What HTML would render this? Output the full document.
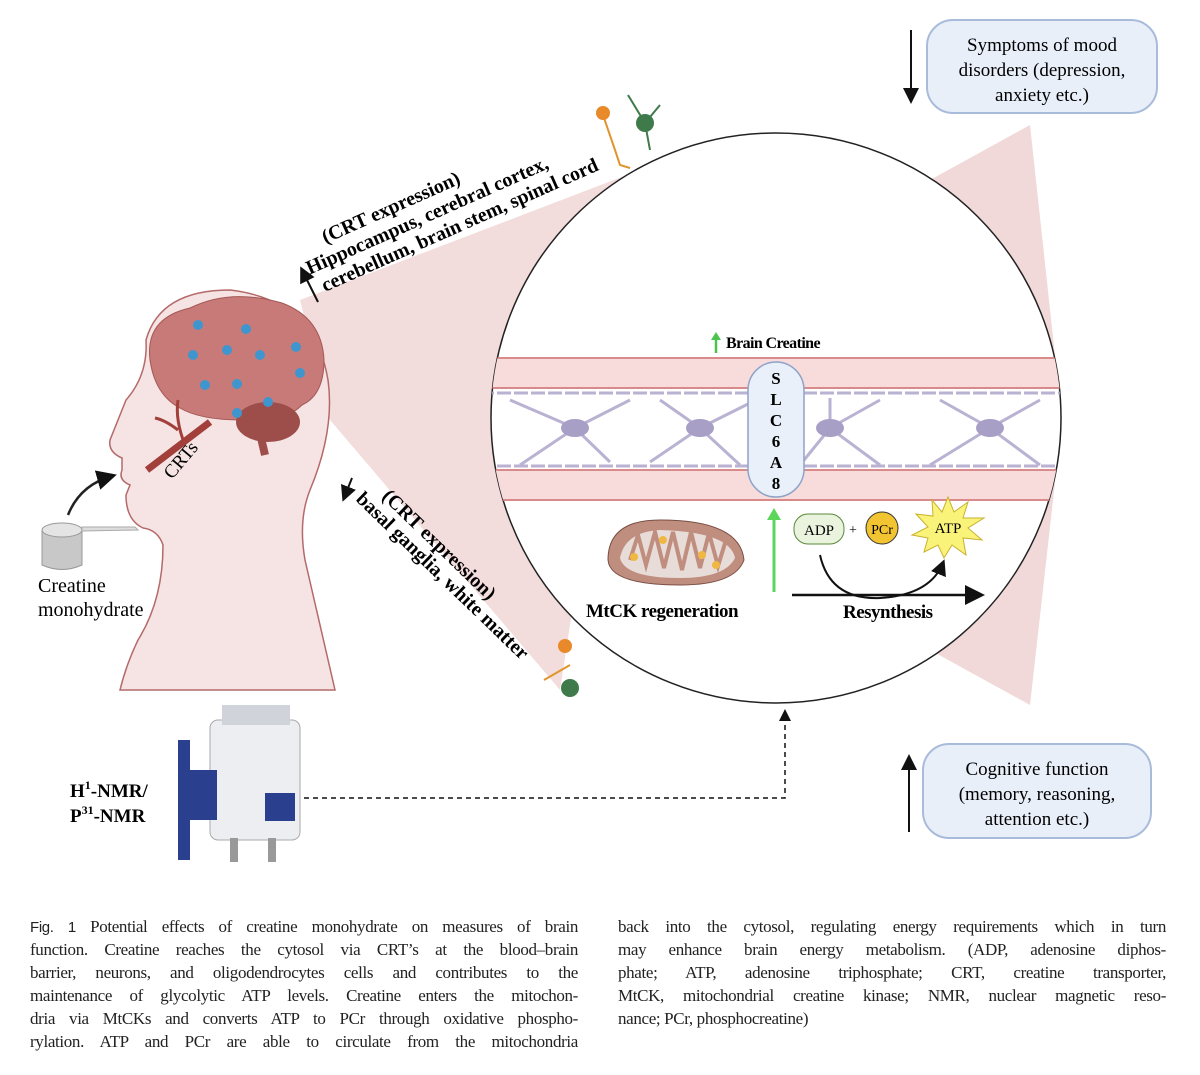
<!DOCTYPE html>
<html><head><meta charset="utf-8"><style>
body{margin:0;background:#fff;width:1200px;height:1075px;overflow:hidden;position:relative;font-family:"Liberation Serif",serif}
.cap{position:absolute;font-size:17px;line-height:23px;color:#222;width:548px}
.cap div{white-space:nowrap;text-align:justify;text-align-last:justify;letter-spacing:-0.35px;height:23px}
.cap div.l{text-align-last:left}
</style></head><body>
<svg width="1200" height="900" style="position:absolute;left:0;top:0" font-family="Liberation Serif, serif">
<defs>
<clipPath id="cc"><circle cx="776" cy="418" r="285"/></clipPath>
<marker id="ah" markerWidth="8" markerHeight="8" refX="6" refY="4" orient="auto"><path d="M0,0L8,4L0,8z" fill="#111"/></marker>
</defs>
<!-- cones -->
<polygon points="300,300 640,170 560,690 330,420" fill="#f3dcdc"/>
<polygon points="1030,125 1062,420 930,180" fill="#f1d9d9"/>
<polygon points="1030,705 1062,420 930,650" fill="#f1d9d9"/>
<!-- head -->
<path d="M335,690 L305,560 Q298,520 310,490 Q335,430 328,380 Q315,300 230,290 Q160,290 146,340 Q148,375 126,400 Q118,420 110,440 Q108,452 122,458 L122,470 Q118,480 130,485 L126,495 Q126,520 143,528 Q158,530 163,545 Q163,600 138,640 Q126,665 120,690 Z" fill="#f6e3e3" stroke="#b46a6a" stroke-width="1.5"/>
<!-- brain -->
<path d="M150,360 Q145,318 190,308 Q230,288 282,303 Q322,318 324,360 Q324,395 302,405 Q282,425 242,420 Q200,420 180,408 Q155,395 150,360Z" fill="#c77a78" stroke="#a45855"/>
<ellipse cx="268" cy="422" rx="32" ry="20" fill="#9d4e4a"/>
<path d="M258,425 L265,455" stroke="#9d4e4a" stroke-width="8"/>
<g fill="#3f96cf">
<circle cx="198" cy="325" r="5"/><circle cx="246" cy="329" r="5"/><circle cx="296" cy="347" r="5"/><circle cx="193" cy="355" r="5"/><circle cx="227" cy="350" r="5"/><circle cx="260" cy="355" r="5"/><circle cx="300" cy="373" r="5"/><circle cx="205" cy="385" r="5"/><circle cx="237" cy="384" r="5"/><circle cx="268" cy="402" r="5"/><circle cx="237" cy="413" r="5"/>
</g>
<path d="M147,470 L210,422" stroke="#a23f3a" stroke-width="7"/>
<path d="M185,445 Q175,420 178,400 M178,430 Q165,420 155,418" stroke="#a23f3a" stroke-width="3" fill="none"/>
<text x="172" y="480" font-size="19" transform="rotate(-50 172 480)">CRTs</text>
<!-- cup -->
<path d="M42,530 L42,565 Q62,574 82,565 L82,530Z" fill="#c8c8c8" stroke="#999"/>
<ellipse cx="62" cy="530" rx="20" ry="7" fill="#e4e4e4" stroke="#999"/>
<path d="M82,527 L135,527 L138,530 L82,531Z" fill="#ddd" stroke="#aaa"/>
<path d="M68,515 Q80,485 112,476" stroke="#222" stroke-width="2.5" fill="none" marker-end="url(#ah)"/>
<text x="38" y="592" font-size="20">Creatine</text>
<text x="38" y="616" font-size="20">monohydrate</text>
<!-- rotated text upper -->
<path d="M318,302 L302,270" stroke="#111" stroke-width="2" marker-end="url(#ah)"/>
<g transform="rotate(-24 325 292)" font-size="20" font-weight="bold">
<text x="345" y="248">(CRT expression)</text>
<text x="318" y="270">Hippocampus, cerebral cortex,</text>
<text x="325" y="292">cerebellum, brain stem, spinal cord</text>
</g>
<path d="M352,478 L344,498" stroke="#111" stroke-width="2" marker-end="url(#ah)"/>
<g transform="rotate(44 355 500)" font-size="20" font-weight="bold">
<text x="372" y="480">(CRT expression)</text>
<text x="355" y="500">basal ganglia, white matter</text>
</g>
<!-- neurons -->
<g stroke="#e0952c" stroke-width="2" fill="none"><path d="M603,115 L615,150 L620,165 L630,168"/><path d="M544,680 L570,665"/></g>
<circle cx="603" cy="113" r="7" fill="#e8892a"/><circle cx="565" cy="646" r="7" fill="#e8892a"/>
<circle cx="645" cy="123" r="9" fill="#3e7a4a"/><circle cx="570" cy="688" r="9" fill="#3e7a4a"/>
<path d="M645,123 L628,95 M645,123 L660,105 M645,123 L650,150" stroke="#3e7a4a" stroke-width="2"/>
<!-- circle -->
<circle cx="776" cy="418" r="285" fill="#fff" stroke="#222" stroke-width="1.5"/>
<g clip-path="url(#cc)">
<rect x="480" y="358" width="600" height="30" fill="#f8dcdc"/>
<rect x="480" y="470" width="600" height="30" fill="#f8dcdc"/>
<g stroke="#d98a8a" stroke-width="2"><line x1="480" x2="1070" y1="358" y2="358"/><line x1="480" x2="1070" y1="388" y2="388"/><line x1="480" x2="1070" y1="470" y2="470"/><line x1="480" x2="1070" y1="500" y2="500"/></g>
<g stroke="#b9b2d2" stroke-width="3" fill="none"><line x1="480" x2="1070" y1="393" y2="393" stroke-dasharray="14 3"/><line x1="480" x2="1070" y1="466" y2="466" stroke-dasharray="14 3"/>
<path d="M510,400 L575,428 L630,400 M520,465 L575,428 L610,462 M660,400 L700,428 L760,398 M650,462 L700,428 L740,465 M830,398 L830,428 L880,400 M800,465 L830,428 L880,465 M940,400 L990,428 L1040,400 M930,465 L990,428 L1040,465"/></g>
<g fill="#a89fc7"><ellipse cx="575" cy="428" rx="14" ry="9"/><ellipse cx="700" cy="428" rx="14" ry="9"/><ellipse cx="830" cy="428" rx="14" ry="9"/><ellipse cx="990" cy="428" rx="14" ry="9"/></g>
</g>
<rect x="748" y="362" width="56" height="135" rx="28" fill="#eaf0fa" stroke="#8ea3c8" stroke-width="1.5"/>
<g font-size="17" text-anchor="middle" font-weight="bold"><text x="776" y="384">S</text><text x="776" y="405">L</text><text x="776" y="426">C</text><text x="776" y="447">6</text><text x="776" y="468">A</text><text x="776" y="489">8</text></g>
<path d="M716,353 L716,338" stroke="#4cc34c" stroke-width="2.5"/><path d="M711,340 L716,332 L721,340z" fill="#4cc34c"/>
<text x="726" y="348" font-size="16" font-weight="bold" letter-spacing="-0.6">Brain Creatine</text>
<path d="M774,592 L774,516" stroke="#5bd65b" stroke-width="3"/><path d="M767,520 L774,508 L781,520z" fill="#5bd65b"/>
<path d="M608,560 Q608,520 660,520 Q740,520 744,560 Q735,585 680,585 Q610,585 608,560Z" fill="#c08e7e" stroke="#7a4f44"/>
<path d="M620,558 Q625,532 660,530 Q730,532 735,558 Q725,578 680,578 Q625,578 620,558Z" fill="#e8dcd8"/>
<path d="M630,560 L638,535 L646,565 L655,532 L664,568 L673,532 L682,570 L691,532 L700,568 L709,533 L718,566 L726,540" stroke="#c08e7e" stroke-width="4" fill="none"/>
<g fill="#f0b840"><circle cx="634" cy="557" r="4"/><circle cx="663" cy="540" r="4"/><circle cx="702" cy="555" r="4"/><circle cx="716" cy="565" r="4"/></g>
<text x="586" y="617" font-size="19" font-weight="bold" letter-spacing="-0.5">MtCK regeneration</text>
<rect x="794" y="514" width="50" height="30" rx="14" fill="#eaf3dd" stroke="#5a8a3a"/>
<text x="819" y="535" font-size="15" text-anchor="middle">ADP</text>
<text x="853" y="534" font-size="14" text-anchor="middle">+</text>
<circle cx="882" cy="528" r="16" fill="#f3c431" stroke="#333"/>
<text x="882" y="534" font-size="14" text-anchor="middle">PCr</text>
<polygon points="948,497 954,512 968,502 963,518 984,518 968,528 982,540 963,538 966,555 952,545 944,558 938,545 924,552 928,538 912,535 928,527 916,514 933,516 932,500 942,512" fill="#faf37a" stroke="#c9b12e"/>
<text x="948" y="533" font-size="15" text-anchor="middle">ATP</text>
<path d="M820,555 Q830,600 880,598 Q930,595 943,563" stroke="#111" stroke-width="2" fill="none" marker-end="url(#ah)"/>
<path d="M792,595 L980,595" stroke="#111" stroke-width="2.5" marker-end="url(#ah)"/>
<text x="843" y="618" font-size="19" font-weight="bold" letter-spacing="-0.5">Resynthesis</text>
<!-- boxes -->
<rect x="927" y="20" width="230" height="93" rx="26" fill="#e9eff9" stroke="#a9bbdb" stroke-width="2"/>
<g font-size="19" text-anchor="middle"><text x="1042" y="51">Symptoms of mood</text><text x="1042" y="76">disorders (depression,</text><text x="1042" y="101">anxiety etc.)</text></g>
<path d="M911,30 L911,100" stroke="#111" stroke-width="2" marker-end="url(#ah)"/>
<rect x="923" y="744" width="228" height="94" rx="26" fill="#e9eff9" stroke="#a9bbdb" stroke-width="2"/>
<g font-size="19" text-anchor="middle"><text x="1037" y="775">Cognitive function</text><text x="1037" y="800">(memory, reasoning,</text><text x="1037" y="825">attention etc.)</text></g>
<path d="M909,832 L909,758" stroke="#111" stroke-width="2" marker-end="url(#ah)"/>
<!-- NMR -->
<path d="M295,798 L785,798 L785,712" stroke="#111" stroke-width="1.5" stroke-dasharray="5 4" fill="none" marker-end="url(#ah)"/>
<rect x="210" y="720" width="90" height="120" rx="8" fill="#eceef1" stroke="#aaa"/>
<rect x="222" y="705" width="68" height="20" fill="#d0d4da"/>
<rect x="178" y="740" width="12" height="120" fill="#2b3f8f"/>
<rect x="185" y="770" width="32" height="50" fill="#2b3f8f"/>
<rect x="265" y="793" width="30" height="28" fill="#2b3f8f"/>
<rect x="230" y="838" width="8" height="24" fill="#999"/><rect x="268" y="838" width="8" height="24" fill="#999"/>
<text x="70" y="797" font-size="19" font-weight="bold">H<tspan font-size="12" dy="-8">1</tspan><tspan dy="8">-NMR/</tspan></text>
<text x="70" y="822" font-size="19" font-weight="bold">P<tspan font-size="12" dy="-8">31</tspan><tspan dy="8">-NMR</tspan></text>
</svg>
<div class="cap" style="left:30px;top:915px">
<div><span style="font-family:'Liberation Sans',sans-serif;font-size:15px">Fig. 1</span> Potential effects of creatine monohydrate on measures of brain</div>
<div>function. Creatine reaches the cytosol via CRT’s at the blood–brain</div>
<div>barrier, neurons, and oligodendrocytes cells and contributes to the</div>
<div>maintenance of glycolytic ATP levels. Creatine enters the mitochon-</div>
<div>dria via MtCKs and converts ATP to PCr through oxidative phospho-</div>
<div>rylation. ATP and PCr are able to circulate from the mitochondria</div>
</div>
<div class="cap" style="left:618px;top:915px">
<div>back into the cytosol, regulating energy requirements which in turn</div>
<div>may enhance brain energy metabolism. (ADP, adenosine diphos-</div>
<div>phate; ATP, adenosine triphosphate; CRT, creatine transporter,</div>
<div>MtCK, mitochondrial creatine kinase; NMR, nuclear magnetic reso-</div>
<div class="l">nance; PCr, phosphocreatine)</div>
</div>
</body></html>
